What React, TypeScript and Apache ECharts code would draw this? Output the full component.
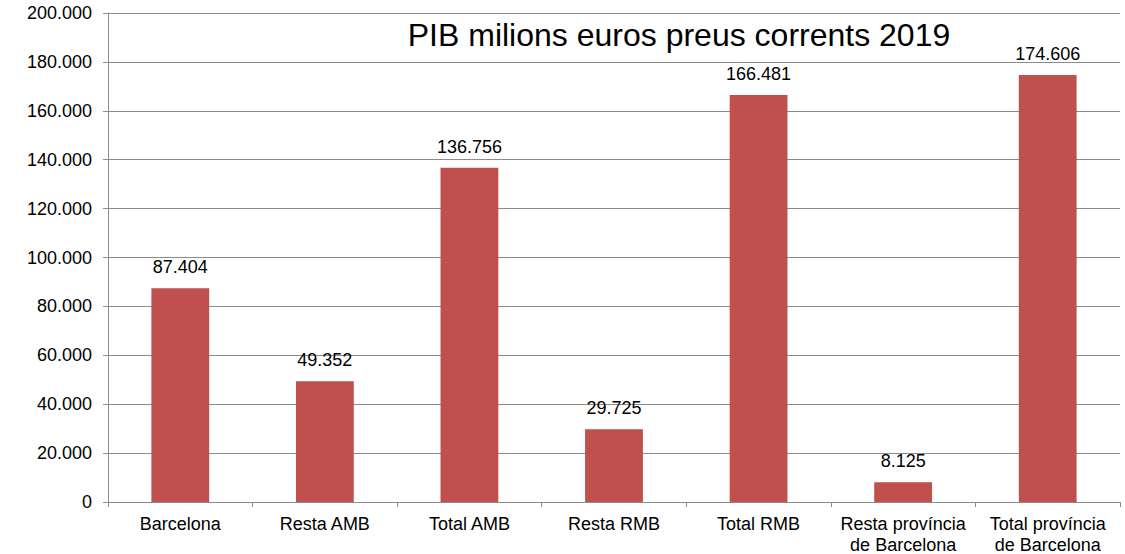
import React, { useEffect, useRef } from "react";
import * as echarts from "echarts";

const categories = [
  "Barcelona",
  "Resta AMB",
  "Total AMB",
  "Resta RMB",
  "Total RMB",
  "Resta província\nde Barcelona",
  "Total província\nde Barcelona",
];
const values = [87404, 49352, 136756, 29725, 166481, 8125, 174606];
const titleText = "PIB milions euros preus corrents 2019";

const fmt = (v: number) =>
  String(Math.round(v)).replace(/\B(?=(\d{3})+(?!\d))/g, ".");

export default function App() {
  const ref = useRef<HTMLDivElement>(null);
  useEffect(() => {
    const chart = echarts.init(ref.current!, null, { renderer: "svg" });
    const font = "'Liberation Sans', Arial, sans-serif";
    chart.setOption({
      animation: false,
      backgroundColor: "#ffffff",
      textStyle: { fontFamily: font },
      grid: {
        left: 108,
        right: 5,
        top: 13,
        bottom: 52,
        containLabel: false,
        outerBoundsMode: "none",
      },
      graphic: [
        {
          type: "text",
          x: 679,
          y: 35,
          style: {
            text: titleText,
            font: `32px ${font}`,
            fill: "#000",
            textAlign: "center",
            textVerticalAlign: "middle",
          },
        },
      ],
      xAxis: {
        type: "category",
        data: categories,
        axisLine: { lineStyle: { color: "#8c8c8c", width: 1 } },
        axisTick: { show: true, length: 5, lineStyle: { color: "#8c8c8c" } },
        axisLabel: {
          color: "#000",
          fontSize: 18,
          fontFamily: font,
          margin: 11,
          lineHeight: 21,
          interval: 0,
        },
      },
      yAxis: {
        type: "value",
        min: 0,
        max: 200000,
        interval: 20000,
        axisLine: { show: true, lineStyle: { color: "#8c8c8c", width: 1 } },
        axisTick: { show: true, length: 5, lineStyle: { color: "#8c8c8c" } },
        splitLine: { lineStyle: { color: "#8c8c8c", width: 1 } },
        axisLabel: {
          color: "#000",
          fontSize: 18,
          fontFamily: font,
          margin: 16,
          formatter: (v: number) => fmt(v),
        },
      },
      series: [
        {
          type: "bar",
          data: values,
          barWidth: "40%",
          itemStyle: { color: "#C0504D" },
          label: {
            show: true,
            position: "top",
            distance: 12,
            color: "#000",
            fontSize: 18,
            fontFamily: font,
            formatter: (p: any) => fmt(p.value),
          },
        },
      ],
    });
    return () => chart.dispose();
  }, []);
  return (
    <div
      ref={ref}
      style={{ position: "fixed", left: 0, top: 0, width: 1125, height: 554 }}
    />
  );
}
